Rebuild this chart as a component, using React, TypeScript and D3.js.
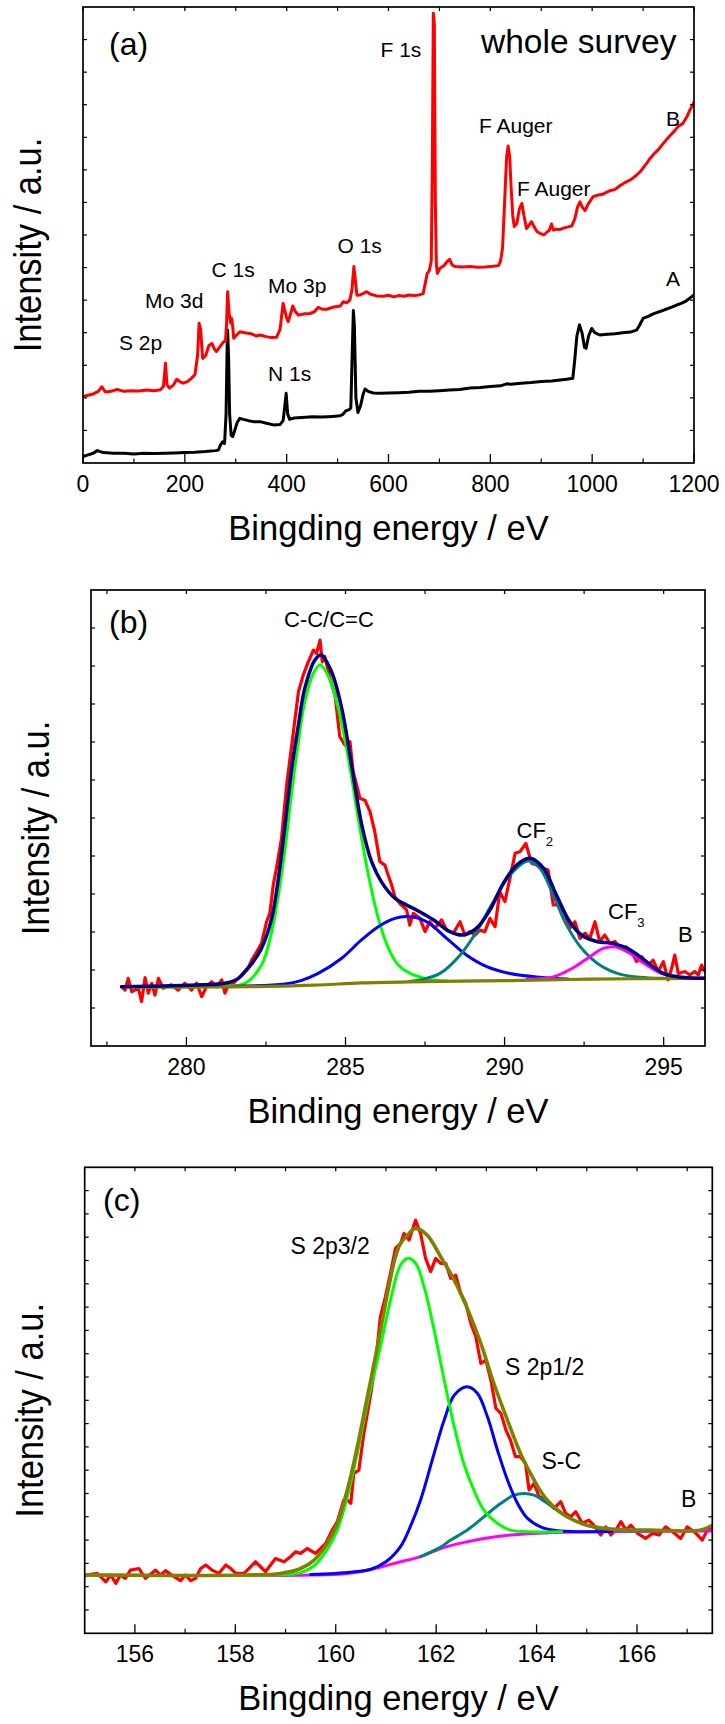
import React from "react";
import * as d3 from "d3";

type Pt = [number, number];

// ---------- (a) whole survey: [binding energy eV, intensity in tick units] ----------
const surveyB: Pt[] = [
  [0, 2.04], [10, 2.08], [20, 2.12], [30, 2.2], [37, 2.34], [44, 2.18], [55, 2.2], [67, 2.26], [80, 2.2],
  [95, 2.22], [110, 2.21], [125, 2.24], [140, 2.22], [152, 2.25], [158, 2.35], [162, 3.06], [165, 2.4],
  [170, 2.3], [178, 2.4], [184, 2.57], [190, 2.5], [197, 2.45], [205, 2.5], [213, 2.6], [220, 2.72],
  [225, 3.3], [228, 4.29], [231, 4.1], [235, 3.21], [241, 3.3], [247, 3.6], [253, 3.67], [258, 3.5],
  [262, 3.42], [268, 3.55], [276, 3.72], [280, 3.75], [282, 4.3], [284, 5.26], [287, 4.6], [290, 4.3],
  [292, 4.44], [294, 4.2], [296, 3.83], [300, 3.9], [308, 4.03], [318, 4.0], [330, 3.97], [340, 3.9],
  [348, 3.93], [360, 3.88], [370, 3.85], [380, 3.86], [387, 4.1], [390, 4.5], [393, 4.9], [396, 4.7],
  [400, 4.45], [403, 4.34], [408, 4.6], [412, 4.82], [417, 4.65], [423, 4.54], [435, 4.58], [446, 4.59],
  [455, 4.65], [462, 4.78], [470, 4.72], [479, 4.72], [490, 4.78], [505, 4.82], [511, 4.95], [518, 4.92],
  [524, 5.0], [528, 5.3], [532, 6.03], [535, 5.6], [538, 5.15], [544, 5.16], [550, 5.2], [557, 5.26],
  [565, 5.18], [577, 5.13], [590, 5.12], [600, 5.15], [610, 5.1], [620, 5.14], [630, 5.12], [640, 5.16],
  [650, 5.14], [660, 5.16], [668, 5.2], [672, 5.5], [676, 5.82], [680, 5.9], [684, 6.2], [686, 9],
  [688, 13.81], [690, 13.5], [692, 8], [694, 6.1], [696, 5.82], [701, 5.98], [708, 6.05], [715, 6.18],
  [720, 6.25], [725, 6.08], [731, 6.03], [745, 6.02], [760, 6.03], [775, 6.01], [790, 6.02], [805, 6.04],
  [816, 6.06], [820, 6.2], [824, 6.6], [828, 8.0], [832, 9.4], [835, 9.73], [838, 9.4], [841, 8.4],
  [844, 7.6], [847, 7.26], [852, 7.35], [857, 7.8], [862, 7.97], [866, 7.6], [871, 7.2], [876, 7.3],
  [881, 7.41], [886, 7.25], [892, 7.1], [898, 7.05], [905, 7.0], [912, 7.1], [916, 7.15], [920, 7.34],
  [924, 7.15], [930, 7.18], [937, 7.17], [945, 7.22], [953, 7.25], [960, 7.28], [966, 7.5], [971, 7.85],
  [976, 8.02], [981, 7.85], [986, 7.75], [992, 7.95], [1002, 8.18], [1010, 8.22], [1020, 8.25],
  [1035, 8.36], [1045, 8.4], [1055, 8.52], [1068, 8.64], [1078, 8.72], [1087, 8.84], [1095, 8.95],
  [1102, 9.1], [1108, 9.22], [1114, 9.36], [1122, 9.5], [1130, 9.62], [1140, 9.82], [1150, 10.0],
  [1156, 10.1], [1163, 10.22], [1170, 10.35], [1178, 10.42], [1186, 10.63], [1192, 10.84], [1196, 10.95],
  [1200, 11.09],
];

const surveyA: Pt[] = [
  [0, 0.2], [10, 0.25], [20, 0.3], [28, 0.38], [40, 0.32], [60, 0.3], [80, 0.3], [100, 0.28], [120, 0.3],
  [140, 0.29], [160, 0.3], [180, 0.31], [200, 0.32], [220, 0.33], [240, 0.35], [260, 0.38], [266, 0.4],
  [270, 0.55], [274, 0.65], [278, 0.6], [281, 1.5], [283, 3.5], [284, 4.08], [286, 3.2], [288, 1.5],
  [291, 0.85], [294, 0.81], [298, 1.0], [303, 1.25], [308, 1.37], [315, 1.34], [325, 1.3], [335, 1.27],
  [348, 1.27], [360, 1.22], [374, 1.17], [387, 1.18], [393, 1.3], [396, 1.7], [399, 2.14], [402, 1.5],
  [406, 1.34], [415, 1.38], [430, 1.4], [450, 1.42], [470, 1.41], [490, 1.43], [505, 1.45], [511, 1.5],
  [516, 1.6], [522, 1.63], [526, 1.7], [529, 3.5], [531, 4.68], [533, 4.2], [536, 2.0], [540, 1.55],
  [545, 1.75], [550, 2.1], [554, 2.27], [560, 2.2], [570, 2.15], [585, 2.14], [600, 2.15], [620, 2.16],
  [640, 2.17], [660, 2.2], [680, 2.2], [700, 2.22], [720, 2.24], [740, 2.26], [760, 2.3], [780, 2.32],
  [800, 2.35], [820, 2.37], [832, 2.43], [840, 2.42], [860, 2.45], [880, 2.47], [900, 2.5], [920, 2.52],
  [937, 2.55], [950, 2.57], [962, 2.6], [966, 3.2], [970, 3.9], [975, 4.24], [980, 4.0], [985, 3.55],
  [988, 3.52], [993, 3.9], [999, 4.13], [1005, 4.0], [1015, 3.93], [1030, 3.95], [1045, 3.97],
  [1060, 4.0], [1075, 4.02], [1087, 4.08], [1092, 4.2], [1100, 4.44], [1110, 4.5], [1120, 4.58],
  [1133, 4.65], [1145, 4.72], [1155, 4.78], [1166, 4.85], [1175, 4.9], [1185, 4.98], [1195, 5.1],
  [1200, 5.16],
];

const surveyMajor = [0, 200, 400, 600, 800, 1000, 1200];
const surveyMinor = [100, 300, 500, 700, 900, 1100];

// ---------- (b) C 1s ----------
const c1sRaw: Pt[] = [
  [277.96, 1.56], [278.07, 1.47], [278.17, 1.78], [278.28, 1.43], [278.49, 1.52], [278.59, 1.17],
  [278.7, 1.8], [278.8, 1.39], [278.91, 1.65], [279.01, 1.34], [279.12, 1.78], [279.27, 1.52],
  [279.53, 1.61], [279.74, 1.47], [279.95, 1.65], [280.16, 1.47], [280.32, 1.65], [280.48, 1.3],
  [280.63, 1.56], [280.79, 1.69], [280.95, 1.56], [281.11, 1.74], [281.21, 1.39], [281.32, 1.61],
  [281.47, 1.65], [281.63, 1.78], [281.79, 1.91], [281.94, 2.04], [282.05, 2.26], [282.21, 2.48],
  [282.36, 2.7], [282.52, 3.27], [282.62, 3.49], [282.73, 4.24], [282.83, 4.68], [282.99, 5.47],
  [283.15, 6.87], [283.31, 7.92], [283.52, 9.32], [283.67, 9.76], [283.83, 10.11], [283.99, 10.42],
  [284.09, 10.33], [284.2, 10.68], [284.27, 10.11], [284.35, 10.25], [284.51, 9.68], [284.67, 9.24],
  [284.82, 8.14], [284.98, 7.92], [285.14, 8.01], [285.24, 7.22], [285.35, 6.87], [285.45, 6.52],
  [285.61, 6.47], [285.77, 6.17], [285.92, 5.64], [286.08, 4.85], [286.24, 4.76], [286.34, 4.5],
  [286.45, 4.24], [286.55, 3.93], [286.71, 3.75], [286.92, 3.58], [287.02, 3.18], [287.13, 3.49],
  [287.34, 3.36], [287.5, 3.01], [287.65, 3.27], [287.81, 3.1], [288.02, 3.32], [288.18, 3.05],
  [288.39, 2.97], [288.6, 3.27], [288.75, 2.92], [288.91, 3.01], [289.07, 2.92], [289.22, 3.05],
  [289.38, 3.01], [289.54, 3.36], [289.7, 3.14], [289.85, 4.06], [290.01, 3.8], [290.17, 4.41],
  [290.33, 5.07], [290.48, 5.11], [290.67, 5.33], [290.85, 4.81], [291.01, 4.76], [291.22, 4.68],
  [291.37, 4.63], [291.53, 3.71], [291.74, 3.71], [291.9, 3.45], [292.05, 3.1], [292.21, 3.27],
  [292.37, 2.83], [292.53, 2.97], [292.68, 2.83], [292.84, 3.27], [292.99, 2.75], [293.15, 2.92],
  [293.31, 2.7], [293.47, 2.75], [293.63, 2.57], [293.83, 2.61], [293.99, 2.48], [294.15, 2.22],
  [294.31, 2.35], [294.52, 2.13], [294.67, 2.26], [294.83, 1.96], [294.99, 2.22], [295.14, 1.74],
  [295.25, 2.04], [295.35, 2.39], [295.46, 1.91], [295.67, 1.96], [295.82, 1.87], [295.98, 1.96],
  [296.09, 1.87], [296.19, 2.13], [296.3, 1.96],
];

const c1sEnvelope: Pt[] = [
  [277.96, 1.56], [280.48, 1.61], [281.21, 1.65], [281.63, 1.78], [281.84, 1.96], [282.1, 2.22],
  [282.36, 2.57], [282.68, 3.36], [282.89, 4.41], [283.1, 5.82], [283.31, 7.31], [283.52, 8.45],
  [283.72, 9.41], [284.04, 10.16], [284.23, 10.29], [284.56, 9.85], [284.88, 8.89], [285.19, 7.39],
  [285.51, 5.82], [285.82, 4.85], [286.13, 4.32], [286.55, 3.89], [287.23, 3.58], [287.76, 3.32],
  [288.28, 3.01], [288.7, 2.92], [289.12, 3.1], [289.54, 3.58], [289.96, 4.28], [290.38, 4.76],
  [290.8, 4.94], [291.22, 4.68], [291.63, 3.97], [292.05, 3.27], [292.42, 2.92], [292.89, 2.75],
  [293.41, 2.7], [293.94, 2.53], [294.46, 2.22], [294.99, 1.91], [295.61, 1.8], [296.3, 1.78],
];

const c1sCC: Pt[] = [
  [277.96, 1.56], [281, 1.57], [281.84, 1.65], [282.36, 2.13], [282.68, 3.01], [282.89, 3.97],
  [283.1, 5.2], [283.31, 6.69], [283.52, 8.01], [283.72, 9.06], [283.99, 9.81], [284.2, 10.03],
  [284.45, 9.75], [284.77, 8.89], [285.09, 7.57], [285.4, 5.99], [285.72, 4.5], [286.03, 3.36],
  [286.35, 2.57], [286.66, 2.13], [287.03, 1.91], [287.65, 1.75], [288.2, 1.71],
];

const c1sBroad: Pt[] = [
  [281.5, 1.57], [283.1, 1.63], [283.6, 1.72], [284.14, 1.91], [284.88, 2.31], [285.5, 2.79],
  [286.03, 3.14], [286.55, 3.36], [287.03, 3.4], [287.55, 3.27], [288.18, 2.83], [288.81, 2.39],
  [289.44, 2.09], [290.17, 1.91], [291.11, 1.81], [292, 1.76],
];

const c1sCF2: Pt[] = [
  [287.0, 1.7], [287.34, 1.74], [287.97, 1.91], [288.6, 2.39], [289.12, 3.01], [289.65, 3.8],
  [290.17, 4.5], [290.74, 4.87], [291.11, 4.68], [291.53, 3.97], [291.95, 3.18], [292.42, 2.57],
  [292.99, 2.13], [293.62, 1.89], [294.25, 1.81], [295, 1.78],
];

const c1sCF3: Pt[] = [
  [290.7, 1.76], [291.53, 1.82], [292.16, 2.06], [292.68, 2.35], [293.1, 2.57], [293.47, 2.61],
  [293.94, 2.44], [294.46, 2.13], [294.99, 1.89], [295.61, 1.81], [296.3, 1.78],
];

const c1sBackground: Pt[] = [
  [277.96, 1.56], [282, 1.56], [284, 1.6], [285.5, 1.66], [287, 1.69], [290, 1.72], [292, 1.75],
  [294, 1.77], [296.3, 1.78],
];

const c1sMajor = [280, 285, 290, 295];
const c1sMinor = [277.5, 282.5, 287.5, 292.5];

// ---------- (c) S 2p ----------
const s2pRaw: Pt[] = [
  [154.92, 2.21], [155.02, 2.5], [155.25, 2.57], [155.42, 2.21], [155.52, 2.5], [155.62, 2.14],
  [155.71, 2.5], [155.81, 2.36], [155.91, 2.71], [156.08, 2.78], [156.21, 2.36], [156.41, 2.71],
  [156.51, 2.5], [156.61, 2.69], [156.78, 2.43], [156.91, 2.26], [157.01, 2.5], [157.11, 2.26],
  [157.21, 2.36], [157.31, 2.78], [157.41, 2.93], [157.54, 2.71], [157.67, 2.57], [157.81, 2.93],
  [157.91, 2.78], [158.01, 2.57], [158.17, 2.57], [158.27, 2.78], [158.4, 3.07], [158.54, 2.78],
  [158.6, 2.64], [158.8, 3.21], [158.97, 3.07], [159.1, 3.29], [159.2, 3.5], [159.3, 3.43],
  [159.43, 3.64], [159.6, 3.43], [159.7, 3.64], [159.8, 3.86], [159.93, 4.43], [160.03, 4.79],
  [160.16, 5.72], [160.23, 5.72], [160.3, 5.58], [160.36, 6.86], [160.46, 7.0], [160.56, 8.58],
  [160.7, 10.3], [160.8, 11.73], [160.89, 13.59], [160.99, 14.44], [161.09, 15.45], [161.19, 16.52],
  [161.29, 16.73], [161.36, 17.16], [161.46, 16.88], [161.59, 17.73], [161.69, 17.16], [161.79, 16.09],
  [161.89, 15.52], [161.99, 16.09], [162.09, 15.88], [162.19, 15.88], [162.29, 15.23], [162.39, 15.37],
  [162.49, 14.59], [162.59, 14.16], [162.69, 13.3], [162.79, 12.73], [162.89, 11.58], [162.99, 11.73],
  [163.09, 10.87], [163.19, 9.65], [163.29, 9.44], [163.39, 8.72], [163.48, 8.29], [163.58, 7.58],
  [163.68, 7.58], [163.78, 7.29], [163.85, 6.15], [163.95, 6.43], [164.05, 5.86], [164.15, 5.79],
  [164.25, 5.58], [164.35, 5.36], [164.48, 5.65], [164.58, 5.15], [164.68, 5.0], [164.78, 5.22],
  [164.91, 4.72], [165.04, 4.86], [165.14, 4.64], [165.28, 4.22], [165.38, 4.57], [165.48, 4.22],
  [165.58, 4.43], [165.68, 4.79], [165.78, 4.43], [165.88, 4.64], [166.01, 4.29], [166.17, 4.07],
  [166.31, 4.29], [166.44, 4.22], [166.57, 4.57], [166.71, 4.36], [166.87, 4.07], [167.0, 4.57],
  [167.14, 4.36], [167.3, 4.0], [167.4, 4.43], [167.5, 4.57],
];

const s2pEnvelope: Pt[] = [
  [155, 2.5], [158.24, 2.5], [158.9, 2.57], [159.3, 2.78], [159.57, 3.14], [159.83, 3.86],
  [160.03, 4.72], [160.23, 6.15], [160.43, 8.01], [160.63, 10.15], [160.83, 12.3], [161.03, 14.59],
  [161.19, 16.16], [161.29, 16.73], [161.43, 17.09], [161.59, 17.38], [161.82, 17.09], [162.09, 16.16],
  [162.36, 15.16], [162.62, 13.94], [162.89, 12.44], [163.15, 10.72], [163.42, 9.15], [163.68, 7.72],
  [163.95, 6.58], [164.21, 5.72], [164.61, 5.0], [165.01, 4.64], [165.54, 4.46], [166.27, 4.43],
  [167.27, 4.43], [167.5, 4.64],
];

const s2p32: Pt[] = [
  [155, 2.5], [159, 2.52], [159.3, 2.6], [159.57, 2.9], [159.83, 3.6], [160.03, 4.43], [160.23, 5.86],
  [160.43, 7.72], [160.63, 9.87], [160.89, 12.3], [161.09, 14.3], [161.29, 15.8], [161.43, 16.09],
  [161.59, 15.88], [161.76, 14.87], [161.96, 13.01], [162.16, 10.87], [162.36, 8.87], [162.55, 7.29],
  [162.75, 6.15], [162.95, 5.29], [163.22, 4.72], [163.48, 4.43], [163.82, 4.36], [164.5, 4.36],
];

const s2p12: Pt[] = [
  [159.5, 2.52], [160.3, 2.62], [160.7, 2.75], [161.0, 3.07], [161.29, 3.72], [161.49, 4.6],
  [161.69, 5.72], [161.96, 7.72], [162.16, 9.15], [162.36, 10.22], [162.62, 10.58], [162.82, 10.3],
  [163.02, 9.3], [163.22, 7.87], [163.42, 6.58], [163.62, 5.58], [163.82, 4.93], [164.08, 4.57],
  [164.41, 4.4], [164.9, 4.36], [165.5, 4.37],
];

const s2pSC: Pt[] = [
  [161.69, 3.29], [162.09, 3.7], [162.29, 4.0], [162.62, 4.43], [162.95, 5.0], [163.29, 5.58],
  [163.55, 5.93], [163.75, 6.0], [163.95, 5.93], [164.21, 5.58], [164.55, 5.08], [164.88, 4.72],
  [165.28, 4.5], [165.81, 4.4], [166.5, 4.39],
];

const s2pBackground: Pt[] = [
  [155, 2.5], [159.5, 2.5], [160.23, 2.57], [160.7, 2.74], [161.29, 3.07], [161.69, 3.29],
  [162.09, 3.64], [162.62, 3.93], [162.95, 4.07], [163.48, 4.22], [164.28, 4.32], [165.5, 4.37],
  [167.5, 4.39],
];

const s2pMajor = [156, 158, 160, 162, 164, 166];
const s2pMinor = [157, 159, 161, 163, 165, 167];

const FONT = "'Liberation Sans', Arial, Helvetica, sans-serif";

interface Series {
  data: Pt[];
  color: string;
  width: number;
  smooth?: boolean;
}

interface Note {
  text: string;
  x: number;
  y: number;
  size: number;
  sub?: string;
}

interface PanelProps {
  id: string;
  left: number;
  top: number;
  right: number;
  bottom: number;
  xDomain: [number, number];
  yMax: number;
  major: number[];
  minor: number[];
  series: Series[];
  notes: Note[];
  xTitle: string;
}

function Panel(p: PanelProps) {
  const x = d3.scaleLinear().domain(p.xDomain).range([p.left, p.right]);
  const y = d3.scaleLinear().domain([0, p.yMax]).range([p.bottom, p.top]);
  const yTicks = d3.range(1, p.yMax);
  const w = p.right - p.left;
  const h = p.bottom - p.top;
  const cx = (p.left + p.right) / 2;
  const cy = (p.top + p.bottom) / 2 + 10;

  return (
    <g>
      <defs>
        <clipPath id={`clip-${p.id}`}>
          <rect x={p.left} y={p.top} width={w} height={h} />
        </clipPath>
      </defs>
      <g clipPath={`url(#clip-${p.id})`}>
        {p.series.map((s, i) => {
          const line = d3
            .line<Pt>()
            .x((d) => x(d[0]))
            .y((d) => y(d[1]))
            .curve(s.smooth ? d3.curveCatmullRom.alpha(0.5) : d3.curveLinear);
          return (
            <path
              key={i}
              d={line(s.data) || ""}
              fill="none"
              stroke={s.color}
              strokeWidth={s.width}
              strokeLinejoin="round"
              strokeLinecap="round"
            />
          );
        })}
      </g>
      <rect x={p.left} y={p.top} width={w} height={h} fill="none" stroke="#000" strokeWidth={1.7} />
      {/* y ticks, left and right, no labels */}
      {yTicks.map((t) => (
        <g key={`y${t}`} stroke="#000" strokeWidth={1.2}>
          <line x1={p.left} x2={p.left + 4} y1={y(t)} y2={y(t)} />
          <line x1={p.right} x2={p.right - 4} y1={y(t)} y2={y(t)} />
        </g>
      ))}
      {p.major.map((t) => (
        <g key={`M${t}`} stroke="#000" strokeWidth={1.3}>
          <line x1={x(t)} x2={x(t)} y1={p.bottom} y2={p.bottom - 9} />
          <line x1={x(t)} x2={x(t)} y1={p.top} y2={p.top + 4} />
        </g>
      ))}
      {p.minor.map((t) => (
        <g key={`m${t}`} stroke="#000" strokeWidth={1.2}>
          <line x1={x(t)} x2={x(t)} y1={p.bottom} y2={p.bottom - 4.5} />
          <line x1={x(t)} x2={x(t)} y1={p.top} y2={p.top + 4} />
        </g>
      ))}
      {p.major.map((t) => (
        <text key={`L${t}`} x={x(t)} y={p.bottom + 29} textAnchor="middle" fontSize={23} fontFamily={FONT}>
          {t}
        </text>
      ))}
      <text x={cx} y={p.bottom + 77} textAnchor="middle" fontSize={34.5} fontFamily={FONT}>
        {p.xTitle}
      </text>
      <text
        transform={`translate(${p.left - 42},${cy}) rotate(-90) scale(1,1.1)`}
        textAnchor="middle"
        fontSize={34.5}
        fontFamily={FONT}
      >
        Intensity / a.u.
      </text>
      {p.notes.map((n, i) => (
        <text key={`n${i}`} x={n.x} y={n.y} fontSize={n.size} fontFamily={FONT}>
          {n.text}
          {n.sub ? (
            <tspan fontSize={n.size * 0.6} dy={n.size * 0.4}>
              {n.sub}
            </tspan>
          ) : null}
        </text>
      ))}
    </g>
  );
}

export default function App() {
  return (
    <svg
      width={725}
      height={1724}
      style={{ position: "absolute", left: 0, top: 0, background: "#fff" }}
    >
      <rect width={725} height={1724} fill="#fff" />
      <Panel
        id="a"
        left={83}
        top={7}
        right={694}
        bottom={463}
        xDomain={[0, 1200]}
        yMax={14}
        major={surveyMajor}
        minor={surveyMinor}
        xTitle="Bingding energy / eV"
        series={[
          { data: surveyA, color: "#000", width: 3 },
          { data: surveyB, color: "#ff0000", width: 3 },
        ]}
        notes={[
          { text: "(a)", x: 109, y: 55, size: 32 },
          { text: "whole survey", x: 481, y: 53, size: 33.5 },
          { text: "S 2p", x: 119, y: 350, size: 21 },
          { text: "Mo 3d", x: 145, y: 308, size: 21 },
          { text: "C 1s", x: 211.5, y: 276.5, size: 21 },
          { text: "Mo 3p", x: 268, y: 293, size: 21 },
          { text: "N 1s", x: 268, y: 381, size: 21 },
          { text: "O 1s", x: 337.5, y: 253, size: 21 },
          { text: "F 1s", x: 380.5, y: 57, size: 21 },
          { text: "F Auger", x: 479, y: 132.5, size: 21 },
          { text: "F Auger", x: 517, y: 196, size: 21 },
          { text: "B", x: 666, y: 125.5, size: 21 },
          { text: "A", x: 666, y: 286, size: 21 },
        ]}
      />
      <Panel
        id="b"
        left={91}
        top={590}
        right={705}
        bottom={1046}
        xDomain={[277, 296.3]}
        yMax={12}
        major={c1sMajor}
        minor={c1sMinor}
        xTitle="Binding energy / eV"
        series={[
          { data: c1sRaw, color: "#ff0000", width: 3.2 },
          { data: c1sCC, color: "#00ff00", width: 3, smooth: true },
          { data: c1sBroad, color: "#0000ff", width: 3, smooth: true },
          { data: c1sCF2, color: "#008080", width: 3, smooth: true },
          { data: c1sCF3, color: "#ff00ff", width: 3, smooth: true },
          { data: c1sBackground, color: "#808000", width: 3.2, smooth: true },
          { data: c1sEnvelope, color: "#000080", width: 3.5, smooth: true },
        ]}
        notes={[
          { text: "(b)", x: 109, y: 633, size: 32 },
          { text: "C-C/C=C", x: 284, y: 626.5, size: 22 },
          { text: "CF", x: 516.5, y: 837.5, size: 22, sub: "2" },
          { text: "CF", x: 608, y: 918.5, size: 22, sub: "3" },
          { text: "B", x: 678, y: 941.5, size: 22 },
        ]}
      />
      <Panel
        id="c"
        left={84.7}
        top={1167.3}
        right={712.3}
        bottom={1633.3}
        xDomain={[155, 167.5]}
        yMax={20}
        major={s2pMajor}
        minor={s2pMinor}
        xTitle="Bingding energy / eV"
        series={[
          { data: s2pRaw, color: "#ff0000", width: 3.2 },
          { data: s2pBackground, color: "#ff00ff", width: 3, smooth: true },
          { data: s2pSC, color: "#008080", width: 3, smooth: true },
          { data: s2p12, color: "#0000ff", width: 3, smooth: true },
          { data: s2p32, color: "#00ff00", width: 3, smooth: true },
          { data: s2pEnvelope, color: "#808000", width: 3.6, smooth: true },
        ]}
        notes={[
          { text: "(c)", x: 103, y: 1211, size: 32 },
          { text: "S 2p3/2", x: 290.5, y: 1254, size: 23 },
          { text: "S 2p1/2", x: 505, y: 1375, size: 23 },
          { text: "S-C", x: 541.5, y: 1469, size: 23 },
          { text: "B", x: 681, y: 1506.5, size: 23 },
        ]}
      />
    </svg>
  );
}
